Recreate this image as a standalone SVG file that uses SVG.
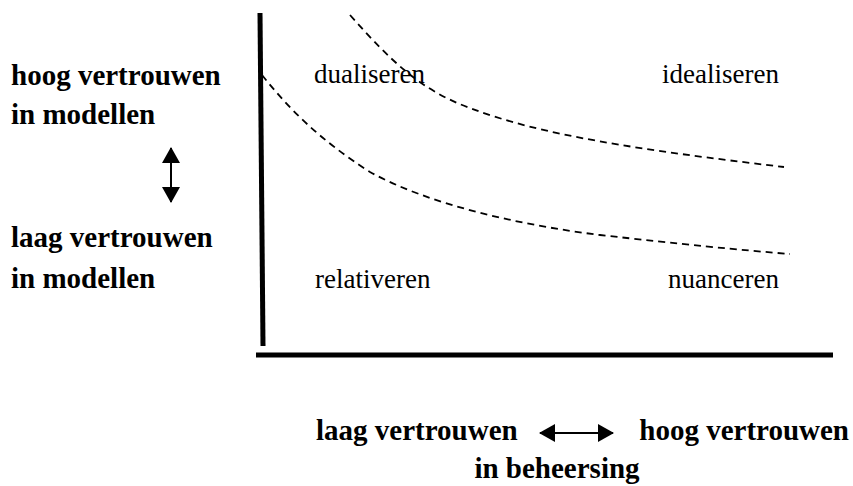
<svg xmlns="http://www.w3.org/2000/svg" width="853" height="486" viewBox="0 0 853 486">
<style>
text{font-family:"Liberation Serif","DejaVu Serif",serif;font-size:27px;fill:#000}
.b{font-weight:bold;font-size:29px}
.axis{stroke:#000;stroke-width:5;fill:none}
.dash{stroke:#000;stroke-width:1.8;fill:none;stroke-dasharray:7 5}
.arr{stroke:#000;stroke-width:2;fill:none}
</style>
<defs>
<marker id="ah" viewBox="0 0 16 18" refX="15" refY="9" markerWidth="16" markerHeight="18" markerUnits="userSpaceOnUse" orient="auto-start-reverse">
<path d="M0,0 L16,9 L0,18 Z" fill="#000"/>
</marker>
</defs>
<rect width="853" height="486" fill="#fff"/>
<g id="axes">
<line class="axis" x1="260" y1="13" x2="263" y2="346"/>
<line class="axis" x1="256" y1="355" x2="833" y2="355"/>
</g>
<g id="connectors">
<path class="dash" d="M350,15 C390,60 420,90 470,108 C540,135 640,150 784,167"/>
<path class="dash" d="M262,75 C290,110 320,140 370,172 C430,205 520,225 600,235 C680,244 740,250 790,254"/>
<line class="arr" x1="171" y1="148" x2="171" y2="202" marker-start="url(#ah)" marker-end="url(#ah)"/>
<line class="arr" x1="540" y1="433" x2="613" y2="433" marker-start="url(#ah)" marker-end="url(#ah)"/>
</g>
<g id="dualiseren"><text x="314" y="83">dualiseren</text></g>
<g id="idealiseren"><text x="779" y="83" text-anchor="end">idealiseren</text></g>
<g id="relativeren"><text x="315" y="288">relativeren</text></g>
<g id="nuanceren"><text x="779" y="288" text-anchor="end">nuanceren</text></g>
<g id="y-high"><text class="b" x="11" y="85">hoog vertrouwen</text><text class="b" x="11" y="124">in modellen</text></g>
<g id="y-low"><text class="b" x="11" y="247">laag vertrouwen</text><text class="b" x="11" y="288">in modellen</text></g>
<g id="x-label">
<text class="b" x="316" y="440">laag vertrouwen</text>
<text class="b" x="849" y="440" text-anchor="end">hoog vertrouwen</text>
<text class="b" x="557" y="478" text-anchor="middle">in beheersing</text>
</g>
</svg>
